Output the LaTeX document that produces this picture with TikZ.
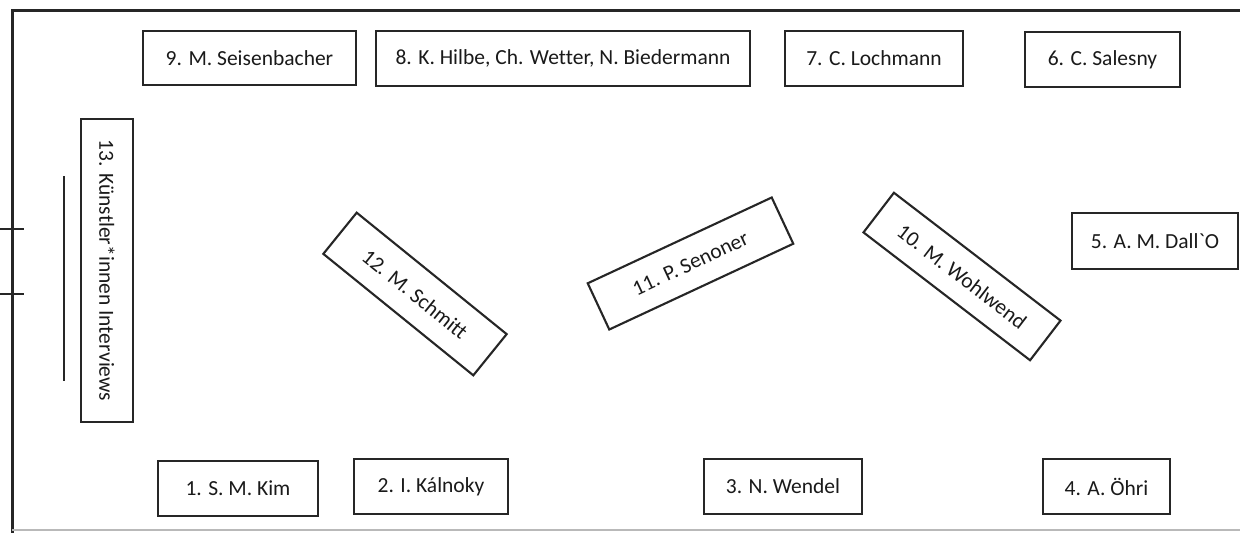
\documentclass[tikz,border=0pt]{standalone}
\usepackage{fontspec}
\newfontfamily\calfont[Ligatures=NoCommon]{Carlito}
\definecolor{ink}{HTML}{1A1A1A}
\definecolor{edge}{HTML}{262626}
\tikzset{
  seat/.style={draw=edge, line width=2.1pt, inner sep=0pt, text=ink,
    font=\calfont\fontsize{21.5}{25}\selectfont, anchor=center},
  wall/.style={draw=edge, line width=3pt},
  faint/.style={draw=gray!55, line width=1.5pt},
  thin/.style={draw=edge, line width=2pt}
}
\begin{document}
\begin{tikzpicture}[x=1pt,y=-1pt]
\useasboundingbox (0,0) rectangle (1240,533);
\fill[white] (0,0) rectangle (1240,533);
% walls
\coordinate (tl) at (12,10);
\coordinate (tr) at (1240,10);
\coordinate (bl) at (12,533);
\coordinate (bb1) at (12,530);
\coordinate (bb2) at (1240,530);
\draw[wall] (tr) -- (tl) -- (bl);
\draw[faint] (bb1) -- (bb2);
% door ticks
\coordinate (t1a) at (0,229); \coordinate (t1b) at (24,229);
\coordinate (t2a) at (0,294); \coordinate (t2b) at (24,294);
\draw[thin] (t1a) -- (t1b);
\draw[thin] (t2a) -- (t2b);
% screen line
\coordinate (s1) at (64,176); \coordinate (s2) at (64,381);
\draw[thin] (s1) -- (s2);
% top row
\node[seat, minimum width=213pt, minimum height=54pt] (n9) at (249.5,58) {9. M. Seisenbacher};
\node[seat, minimum width=374pt, minimum height=55pt] (n8) at (563,58.5) {8. K. Hilbe, Ch. Wetter, N. Biedermann};
\node[seat, minimum width=178pt, minimum height=55pt] (n7) at (874,58.5) {7. C. Lochmann};
\node[seat, minimum width=155pt, minimum height=55pt] (n6) at (1102.5,59.5) {6. C. Salesny};
% right
\node[seat, minimum width=166pt, minimum height=56pt] (n5) at (1155,241) {5. A. M. Dall`O};
% left vertical
\node[seat, minimum width=303pt, minimum height=52pt, rotate=-90] (n13) at (107,270.5) {13. Künstler*innen Interviews};
% rotated middle
\node[seat, minimum width=193pt, minimum height=53pt, rotate=-39] (n12) at (415,294) {12. M. Schmitt};
\node[seat, minimum width=203pt, minimum height=51pt, rotate=25] (n11) at (690.5,263.5) {11. P. Senoner};
\node[seat, minimum width=210pt, minimum height=50pt, rotate=-37.5] (n10) at (962,276.5) {10. M. Wohlwend};
% bottom row
\node[seat, minimum width=160pt, minimum height=55pt] (n1) at (238,488.5) {1. S. M. Kim};
\node[seat, minimum width=154pt, minimum height=55pt] (n2) at (431,486.5) {2. I. Kálnoky};
\node[seat, minimum width=158pt, minimum height=55pt] (n3) at (783,486.5) {3. N. Wendel};
\node[seat, minimum width=127pt, minimum height=55pt] (n4) at (1106.5,486.5) {4. A. Öhri};
\end{tikzpicture}
\end{document}
